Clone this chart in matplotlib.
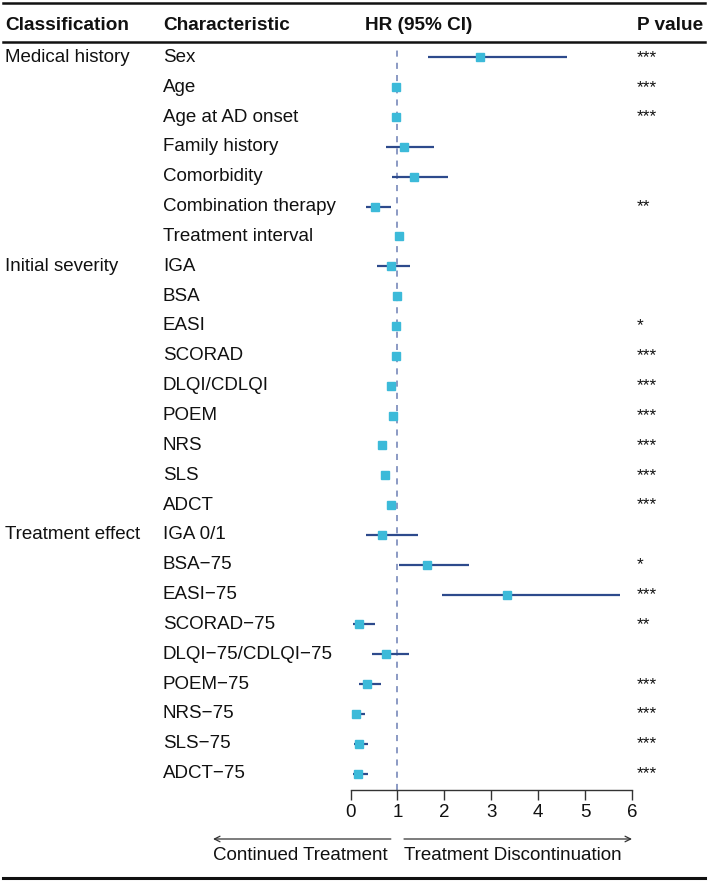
import numpy as np
import matplotlib.pyplot as plt
from matplotlib.transforms import blended_transform_factory
from matplotlib.lines import Line2D

plt.rcParams["font.family"] = ["Liberation Sans", "DejaVu Sans"]

#----------------------------- data -----------------------------
characteristics = ["Sex", "Age", "Age at AD onset", "Family history", "Comorbidity",
                   "Combination therapy", "Treatment interval",
                   "IGA", "BSA", "EASI", "SCORAD", "DLQI/CDLQI", "POEM", "NRS", "SLS", "ADCT",
                   "IGA 0/1", "BSA\u221275", "EASI\u221275", "SCORAD\u221275", "DLQI\u221275/CDLQI\u221275",
                   "POEM\u221275", "NRS\u221275", "SLS\u221275", "ADCT\u221275"]
hr = [2.77, 0.96, 0.96, 1.14, 1.35, 0.52, 1.03,
      0.86, 1.00, 0.98, 0.96, 0.87, 0.90, 0.68, 0.74, 0.86,
      0.68, 1.62, 3.33, 0.19, 0.75, 0.35, 0.12, 0.19, 0.17]
ci_low = [1.66, 0.95, 0.95, 0.75, 0.89, 0.32, 0.98,
          0.57, 0.99, 0.97, 0.95, 0.85, 0.88, 0.66, 0.72, 0.84,
          0.32, 1.04, 1.95, 0.06, 0.45, 0.19, 0.04, 0.08, 0.06]
ci_high = [4.61, 0.97, 0.97, 1.77, 2.07, 0.86, 1.08,
           1.27, 1.01, 0.99, 0.97, 0.89, 0.92, 0.74, 0.79, 0.88,
           1.43, 2.53, 5.74, 0.52, 1.25, 0.65, 0.31, 0.38, 0.37]
p_stars = ["***", "***", "***", "", "", "**", "",
           "", "", "*", "***", "***", "***", "***", "***", "***",
           "", "*", "***", "**", "", "***", "***", "***", "***"]
groups = {"Medical history": 0, "Initial severity": 7, "Treatment effect": 16}
xticks = [0, 1, 2, 3, 4, 5, 6]

#----------------------------- layout (pixels of a 708x883 figure) -----------------------
W, H = 708, 883
fig = plt.figure(figsize=(W / 100, H / 100), dpi=100)

def fx(px):
    return px / W

def fy(py):
    return 1 - py / H

ax_left, ax_right = 350.5, 632.0
ax_top, ax_bot = 42.0, 790.0
row0, step = 57.3, 29.85
ax = fig.add_axes([fx(ax_left), fy(ax_bot), fx(ax_right - ax_left), (ax_bot - ax_top) / H])
ax.set_xlim(0, 6)
ax.set_ylim((ax_bot - row0) / step, (ax_top - row0) / step)
ax.patch.set_alpha(0)

rows = np.arange(len(characteristics))
navy = "#2D4A8C"
cyan = "#3CBAD9"

ax.axvline(1, ymin=0, ymax=0.993, color="#6C7FB4", lw=1.1, ls=(0, (4, 4)), zorder=1)
ax.hlines(rows, ci_low, ci_high, color=navy, lw=1.6, zorder=2)
ax.plot(hr, rows, ls="none", marker="s", ms=5.6, mfc=cyan, mec=cyan, zorder=3)

for s in ["top", "right", "left"]:
    ax.spines[s].set_visible(False)
ax.spines["bottom"].set_bounds(0, 6)
ax.spines["bottom"].set_color("#333333")
ax.spines["bottom"].set_linewidth(1.0)
ax.set_yticks([])
ax.set_xticks(xticks)
ax.set_xticklabels([str(t) for t in xticks])
ax.tick_params(axis="x", length=7.2, width=1.0, color="#333333", pad=3, labelsize=13.5, labelcolor="#111111")

#----------------------------- table text ------------------------------------------------
tr = blended_transform_factory(fig.transFigure, ax.transData)
fs = 13.5
for i, name in enumerate(characteristics):
    fig.text(fx(163), i, name, transform=tr, fontsize=fs, va="center", ha="left", color="#111111")
    if p_stars[i]:
        fig.text(fx(637), i, p_stars[i], transform=tr, fontsize=12.5, va="center", ha="left", color="#111111")
for g, i in groups.items():
    fig.text(fx(5), i, g, transform=tr, fontsize=fs, va="center", ha="left", color="#111111")

header_y = fy(25)
for x, t in [(5, "Classification"), (163, "Characteristic"), (365, "HR (95% CI)"), (637, "P value")]:
    fig.text(fx(x), header_y, t, fontsize=13.7, fontweight="bold", va="center", ha="left", color="#111111")

# table rules
for py, lw in [(3, 1.8), (42, 1.8), (878, 2.2)]:
    fig.add_artist(Line2D([fx(3), fx(705)], [fy(py), fy(py)], color="#111111", lw=lw))

#----------------------------- direction arrows ------------------------------------------
atr = blended_transform_factory(ax.transData, fig.transFigure)
arrow_y = fy(839)
ax.annotate("", xy=(-2.93, arrow_y), xytext=(0.86, arrow_y), xycoords=atr, textcoords=atr,
            arrowprops=dict(arrowstyle="->", color="#333333", lw=0.9, shrinkA=0, shrinkB=0))
ax.annotate("", xy=(6.0, arrow_y), xytext=(1.14, arrow_y), xycoords=atr, textcoords=atr,
            arrowprops=dict(arrowstyle="->", color="#333333", lw=0.9, shrinkA=0, shrinkB=0))
fig.text(fx(213), fy(856), "Continued Treatment", fontsize=fs, va="center", ha="left", color="#111111")
fig.text(fx(404), fy(856), "Treatment Discontinuation", fontsize=fs, va="center", ha="left", color="#111111")

fig.savefig("out.png", dpi=100)
